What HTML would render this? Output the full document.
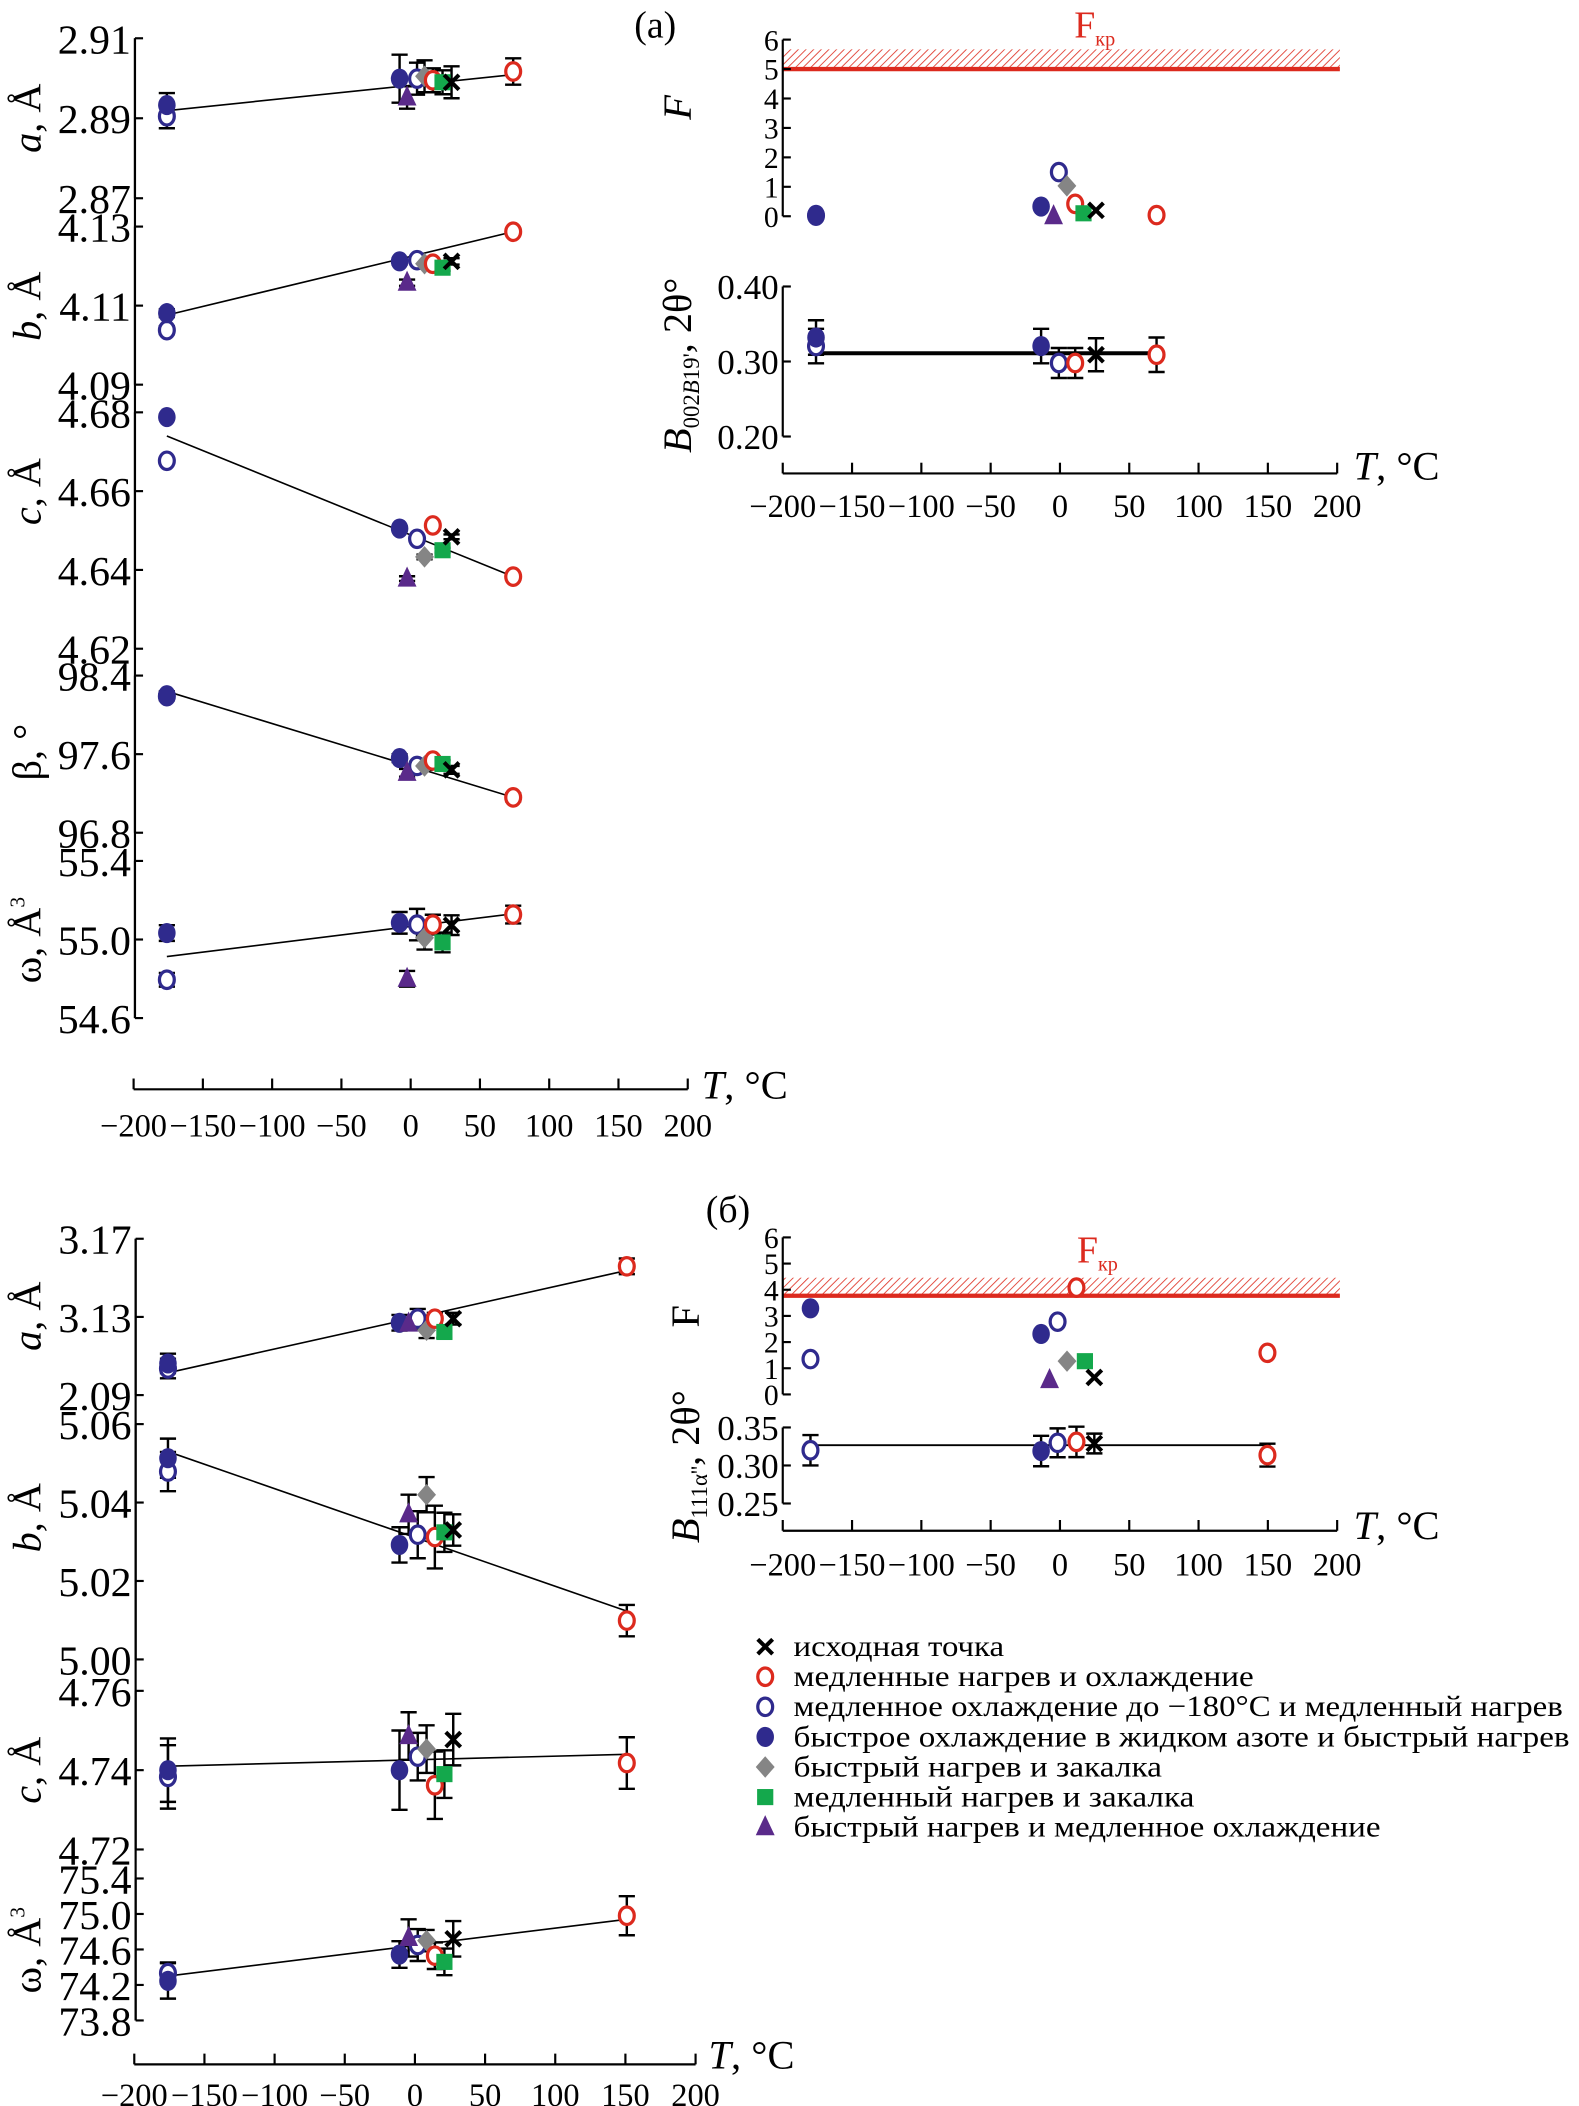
<!DOCTYPE html>
<html><head><meta charset="utf-8"><title>Lattice parameters vs T</title>
<style>html,body{margin:0;padding:0;background:#fff}svg{display:block}text{font-family:"Liberation Serif","DejaVu Serif",serif;fill:#000}</style>
</head><body>
<svg id="fig" xmlns="http://www.w3.org/2000/svg" width="1579" height="2106" viewBox="0 0 1170 1568" preserveAspectRatio="none">
<defs>
<pattern id="hatch" patternUnits="userSpaceOnUse" width="4" height="4" patternTransform="rotate(45)">
<line x1="0" y1="0" x2="0" y2="4" stroke="#e03a2e" stroke-width="1.3"/>
</pattern>
</defs>
<text x="470" y="28" font-size="28">(a)</text>
<text x="523" y="910" font-size="28">(б)</text>
<g id="legend"></g>
</svg>
<script>
// ===== Data: top-left panels (a) =====
const seriesL = ['bf','bo','bf','bo','gd','ro','gs','x','pt','ro'];
const tempsL = [-176,-176,-8,4.6,10,16,23,29.5,-2.6,74];
const aL = [2.8933,2.8905,2.8999,2.8999,2.9005,2.8995,2.899,2.899,2.8952,2.9017];
const aLerr = [0.003,0.003,0.006,0.004,0.004,0.003,0.003,0.004,0.0028,0.0033];
const bL = [4.1081,4.1038,4.1212,4.1215,4.1206,4.1206,4.1196,4.1212,4.1158,4.1287];
const bLerr = [0.001,0.001,0.0008,0.0008,0.0008,0.0008,0.0008,0.0008,0.0008,0.0008];
const cL = [4.6788,4.6677,4.6505,4.6479,4.6433,4.6513,4.6450,4.6484,4.6378,4.6383];
const cLerr = [0.0006,0.0006,0.0006,0.0006,0.0006,0.0006,0.0006,0.0006,0.0006,0.0006];
const betaL = [98.2,98.19,97.56,97.48,97.48,97.535,97.50,97.44,97.41,97.16];
const betaLerr = [0.04,0.04,0.04,0.04,0.04,0.04,0.04,0.04,0.04,0.04];
const omegaL = [55.033,54.795,55.085,55.076,55.009,55.076,54.985,55.073,54.80,55.127];
const omegaLerr = [0.04,0.035,0.055,0.08,0.06,0.05,0.05,0.05,0.04,0.045];
const fitTL = [-176,74];
const fitAL = [2.8919,2.9009];
const fitBL = [4.1076,4.1287];
const fitCL = [4.674,4.6383];
const fitBetaL = [98.24,97.16];
const fitOmegaL = [54.913,55.131];
// ===== Data: top-right (a) =====
const tempsRF = [-176,-176,-13.6,-0.8,5,11,17,26,-4.6,69.7];
const fRA = [0.05,0.02,0.33,1.5,1.03,0.42,0.1,0.2,0.0,0.04];
const fCritA = [5.0,5.67];
const seriesRB = ['bf','bo','bf','bo','ro','x','ro'];
const tempsRB = [-176,-176,-13.6,-0.8,11,26,69.7];
const bwRA = [0.332,0.3206,0.3206,0.298,0.298,0.309,0.309];
const bwRAerr = [0.023,0.023,0.023,0.02,0.02,0.022,0.023];
const fitTRA = [-176,70];
const fitBwRA = [0.311,0.311];
// ===== Data: bottom-left (б) =====
const tempsB = [-176,-176,-11,2,8.3,14.2,21,27.3,-4.5,151];
const aB = [3.1062,3.1036,3.127,3.1291,3.1232,3.1291,3.1223,3.1291,3.1266,3.1559];
const aBerr = [0.005,0.005,0.004,0.005,0.004,0.003,0.003,0.003,0.003,0.004];
const bB = [5.0513,5.0479,5.0292,5.0318,5.042,5.0312,5.0324,5.033,5.037,5.0099];
const bBerr = [0.005,0.005,0.0045,0.006,0.0045,0.008,0.005,0.004,0.005,0.004];
const cB = [4.740,4.7383,4.740,4.7434,4.7453,4.7362,4.739,4.7477,4.7486,4.7418];
const cBerr = [0.008,0.008,0.010,0.006,0.006,0.0085,0.006,0.0065,0.006,0.0065];
const omegaB = [74.246,74.333,74.543,74.65,74.70,74.53,74.46,74.72,74.73,74.98];
const omegaBerr = [0.2,0.12,0.15,0.18,0.12,0.15,0.15,0.2,0.21,0.22];
const fitTB = [-176,151];
const fitAB = [3.1014,3.1538];
const fitBB = [5.053,5.0123];
const fitCB = [4.741,4.744];
const fitOmegaB = [74.30,74.94];
// ===== Data: bottom-right (б) =====
const tempsRF2 = [-180,-180,-13.6,-1.7,5.1,11.9,18,24.8,-7.5,149.7];
const fRB = [3.29,1.35,2.31,2.78,1.27,4.08,1.27,0.65,0.55,1.59];
const fCritB = [3.77,4.46];
const seriesRB2 = ['bo','bf','bo','ro','x','ro'];
const tempsRB2 = [-180,-13.6,-1.7,11.9,24.8,149.7];
const bwRB = [0.320,0.319,0.3298,0.331,0.3289,0.3136];
const bwRBerr = [0.02,0.02,0.019,0.02,0.013,0.015];
const fitTRB = [-180,152];
const fitBwRB = [0.3267,0.3267];
// ===== Tick labels =====
const xTicks = [-200,-150,-100,-50,0,50,100,150,200];
const xTickLabels = ['−200','−150','−100','−50','0','50','100','150','200'];
const aLTicks = [2.87,2.89,2.91]; const aLLabels = ['2.87','2.89','2.91'];
const bLTicks = [4.09,4.11,4.13]; const bLLabels = ['4.09','4.11','4.13'];
const cLTicks = [4.62,4.64,4.66,4.68]; const cLLabels = ['4.62','4.64','4.66','4.68'];
const betaLTicks = [96.8,97.6,98.4]; const betaLLabels = ['96.8','97.6','98.4'];
const omegaLTicks = [54.6,55.0,55.4]; const omegaLLabels = ['54.6','55.0','55.4'];
const fTicks = [0,1,2,3,4,5,6]; const fLabels = ['0','1','2','3','4','5','6'];
const bwATicks = [0.20,0.30,0.40]; const bwALabels = ['0.20','0.30','0.40'];
const aBTicks = [3.09,3.13,3.17]; const aBLabels = ['2.09','3.13','3.17'];
const bBTicks = [5.00,5.02,5.04,5.06]; const bBLabels = ['5.00','5.02','5.04','5.06'];
const cBTicks = [4.72,4.74,4.76]; const cBLabels = ['4.72','4.74','4.76'];
const omegaBTicks = [73.8,74.2,74.6,75.0,75.4]; const omegaBLabels = ['73.8','74.2','74.6','75.0','75.4'];
const bwBTicks = [0.25,0.30,0.35]; const bwBLabels = ['0.25','0.30','0.35'];
const legendSeries = ['x','ro','bo','bf','gd','gs','pt'];
const legendLabels = ['исходная точка','медленные нагрев и охлаждение','медленное охлаждение до −180°C и медленный нагрев','быстрое охлаждение в жидком азоте и быстрый нагрев','быстрый нагрев и закалка','медленный нагрев и закалка','быстрый нагрев и медленное охлаждение'];

const NS='http://www.w3.org/2000/svg';
const svg=document.getElementById('fig');
const COL={navy:'#2f2a8d',red:'#dc2a1e',grey:'#858585',green:'#14a84c',purple:'#5a2a8a'};
const DRAW_ORDER=['bo','bf','gd','ro','gs','pt','x'];
function mk(tag,attrs,parent){const e=document.createElementNS(NS,tag);for(const k in attrs)e.setAttribute(k,attrs[k]);(parent||svg).appendChild(e);return e;}
function lin(v0,p0,v1,p1){return v=>p0+(v-v0)*(p1-p0)/(v1-v0);}
const xTL=lin(-200,99,200,509.6);
const xTR=lin(-200,580,200,990.8);
const xBL=lin(-200,99.5,200,515.4);

function marker(g,type,x,y){
  let e;
  if(type==='bf'){e=mk('ellipse',{cx:x,cy:y,rx:6.5,ry:7.5,fill:COL.navy},g);}
  else if(type==='bo'){e=mk('ellipse',{cx:x,cy:y,rx:5.5,ry:6.5,fill:'#fff',stroke:COL.navy,'stroke-width':2.4},g);}
  else if(type==='ro'){e=mk('ellipse',{cx:x,cy:y,rx:5.5,ry:6.5,fill:'#fff',stroke:COL.red,'stroke-width':2.4},g);}
  else if(type==='gd'){e=mk('polygon',{points:`${x},${y-8} ${x+7},${y} ${x},${y+8} ${x-7},${y}`,fill:COL.grey},g);}
  else if(type==='gs'){e=mk('rect',{x:x-6,y:y-6,width:12,height:12,fill:COL.green},g);}
  else if(type==='pt'){e=mk('polygon',{points:`${x},${y-9} ${x+7},${y+6} ${x-7},${y+6}`,fill:COL.purple},g);}
  else {e=mk('path',{d:`M${x-5.5},${y-5.5}L${x+5.5},${y+5.5}M${x+5.5},${y-5.5}L${x-5.5},${y+5.5}`,stroke:'#000','stroke-width':3,fill:'none'},g);}
  return e;
}
function errbar(g,x,y1,y2){
  mk('path',{d:`M${x},${y1}V${y2}M${x-6},${y1}H${x+6}M${x-6},${y2}H${x+6}`,stroke:'#000','stroke-width':1.8,fill:'none'},g);
}
function yAxis(name,x,yTop,yBot,ticks,labels,ymap,fs){
  const g=mk('g',{});
  
  
  mk('line',{x1:x,y1:yTop,x2:x,y2:yBot,stroke:'#000','stroke-width':1.6},g);
  ticks.forEach((t,i)=>{const y=ymap(t);
    mk('line',{x1:x,y1:y,x2:x+6,y2:y,stroke:'#000','stroke-width':1.6},g);
    const tx=mk('text',{x:x-3,y:y+fs*0.36,'font-size':fs,'text-anchor':'end'},g);tx.textContent=labels[i];});
}
function xAxis(name,xmap,y,lblY,fs,tlabel,tx,ty){
  const g=mk('g',{});
  
  
  mk('line',{x1:xmap(-200),y1:y,x2:xmap(200),y2:y,stroke:'#000','stroke-width':1.6},g);
  xTicks.forEach((t,i)=>{const x=xmap(t);
    mk('line',{x1:x,y1:y,x2:x,y2:y-8,stroke:'#000','stroke-width':1.6},g);
    const txt=mk('text',{x:x,y:lblY,'font-size':fs,'text-anchor':'middle'},g);txt.textContent=xTickLabels[i];});
  const t=mk('text',{x:tx,y:ty,'font-size':30},g);
  t.innerHTML='<tspan font-style="italic">T</tspan>, °C';
}
function scatter(name,xmap,ymap,temps,vals,errs,types){
  const g=mk('g',{});
  
  
  if(errs) temps.forEach((t,i)=>{errbar(g,xmap(t),ymap(vals[i]+errs[i]),ymap(vals[i]-errs[i]));});
  DRAW_ORDER.forEach(type=>{
    temps.forEach((t,i)=>{ if(types[i]!==type) return;
      const m=marker(g,types[i],xmap(t),ymap(vals[i]));
      
      });
  });
}
function fit(name,xmap,ymap,ts,vs,w){
  const l=mk('line',{x1:xmap(ts[0]),y1:ymap(vs[0]),x2:xmap(ts[1]),y2:ymap(vs[1]),stroke:'#000','stroke-width':w||1.2});
  
  
}
function ytitle(name,cx,cy,html,fs){
  const t=mk('text',{x:0,y:0,'font-size':fs||30,'text-anchor':'middle',transform:`translate(${cx},${cy}) rotate(-90)`});
  
  
  t.innerHTML=html;
}
function fcrit(name,xmap,ymap,vals,lx,ly){
  const g=mk('g',{});
  
  
  mk('rect',{x:xmap(-200),y:ymap(vals[1]),width:xmap(200)-xmap(-200)+2,height:ymap(vals[0])-ymap(vals[1]),fill:'url(#hatch)'},g);
  mk('line',{x1:xmap(-200),y1:ymap(vals[0]),x2:xmap(200)+2,y2:ymap(vals[0]),stroke:COL.red,'stroke-width':3.2},g);
  const t=mk('text',{x:lx,y:ly,'font-size':28,fill:COL.red},g);
  t.innerHTML='<tspan fill="#dc2a1e">F</tspan><tspan fill="#dc2a1e" font-size="15" dy="6">кр</tspan>';
}

// ---- Top-left
const yA=lin(2.87,147.6,2.91,28.5), yB=lin(4.09,286.4,4.13,168.7), yC=lin(4.62,483,4.68,307),
      yBe=lin(96.8,620,98.4,503), yW=lin(54.6,758,55.4,641);
mk('line',{x1:100,y1:28.5,x2:100,y2:758,stroke:'#000','stroke-width':1.6});
yAxis('a-axis',100,28.5,147.6,aLTicks,aLLabels,yA,31);
yAxis('b-axis',100,168.7,286.4,bLTicks,bLLabels,yB,31);
yAxis('c-axis',100,307,483,cLTicks,cLLabels,yC,31);
yAxis('beta-axis',100,503,620,betaLTicks,betaLLabels,yBe,31);
yAxis('omega-axis',100,641,758,omegaLTicks,omegaLLabels,yW,31);
xAxis('x-axis-top-left',xTL,811,846,24,'T',520,818);
ytitle('a-title',30,88,'<tspan font-style="italic">a</tspan>, Å');
ytitle('b-title',30,228,'<tspan font-style="italic">b</tspan>, Å');
ytitle('c-title',30,366,'<tspan font-style="italic">c</tspan>, Å');
ytitle('beta-title',30,560,'β, °');
ytitle('omega-title',30,700,'ω, Å<tspan font-size="16" dy="-12">3</tspan>');
fit('fit-a',xTL,yA,fitTL,fitAL); scatter('series-a',xTL,yA,tempsL,aL,aLerr,seriesL);
fit('fit-b',xTL,yB,fitTL,fitBL); scatter('series-b',xTL,yB,tempsL,bL,bLerr,seriesL);
fit('fit-c',xTL,yC,fitTL,fitCL); scatter('series-c',xTL,yC,tempsL,cL,cLerr,seriesL);
fit('fit-beta',xTL,yBe,fitTL,fitBetaL); scatter('series-beta',xTL,yBe,tempsL,betaL,betaLerr,seriesL);
fit('fit-omega',xTL,yW,fitTL,fitOmegaL); scatter('series-omega',xTL,yW,tempsL,omegaL,omegaLerr,seriesL);

// ---- Top-right
const yF1=lin(0,161,6,29.5), yBw1=lin(0.20,325,0.40,213.3);
fcrit('f-critical-a',xTR,yF1,fCritA,796,28);
yAxis('f-axis-a',580,29.5,161,fTicks,fLabels,yF1,22);
yAxis('bw-axis-a',580,213.3,325,bwATicks,bwALabels,yBw1,26);
xAxis('x-axis-top-right',xTR,352.5,385,24,'T',1003,357);
ytitle('f-title-a',512,80,'<tspan font-style="italic">F</tspan>');
ytitle('bw-title-a',512,272,'<tspan font-style="italic">B</tspan><tspan font-size="17" dy="6">002</tspan><tspan font-size="17" font-style="italic">B</tspan><tspan font-size="17">19\'</tspan><tspan dy="-6">, 2θ°</tspan>');
scatter('series-f-a',xTR,yF1,tempsRF,fRA,null,seriesL);
fit('fit-bw-a',xTR,yBw1,fitTRA,fitBwRA,3);
scatter('series-bw-a',xTR,yBw1,tempsRB,bwRA,bwRAerr,seriesRB);

// ---- Bottom-left
const yA2=lin(3.09,1038.7,3.17,922.3), yB2=lin(5.00,1235.5,5.06,1060.3), yC2=lin(4.72,1377,4.76,1258.9), yW2=lin(73.8,1504.3,75.4,1398.6);
mk('line',{x1:100.5,y1:922.3,x2:100.5,y2:1504.3,stroke:'#000','stroke-width':1.6});
yAxis('a-axis-b',100.5,922.3,1038.7,aBTicks,aBLabels,yA2,31);
yAxis('b-axis-b',100.5,1060.3,1235.5,bBTicks,bBLabels,yB2,31);
yAxis('c-axis-b',100.5,1258.9,1377,cBTicks,cBLabels,yC2,31);
yAxis('omega-axis-b',100.5,1398.6,1504.3,omegaBTicks,omegaBLabels,yW2,31);
xAxis('x-axis-bottom-left',xBL,1537,1568,24,'T',525,1540);
ytitle('a-title-b',30,980,'<tspan font-style="italic">a</tspan>, Å');
ytitle('b-title-b',30,1130,'<tspan font-style="italic">b</tspan>, Å');
ytitle('c-title-b',30,1318,'<tspan font-style="italic">c</tspan>, Å');
ytitle('omega-title-b',30,1452,'ω, Å<tspan font-size="16" dy="-12">3</tspan>');
fit('fit-a-b',xBL,yA2,fitTB,fitAB); scatter('series-a-b',xBL,yA2,tempsB,aB,aBerr,seriesL);
fit('fit-b-b',xBL,yB2,fitTB,fitBB); scatter('series-b-b',xBL,yB2,tempsB,bB,bBerr,seriesL);
fit('fit-c-b',xBL,yC2,fitTB,fitCB); scatter('series-c-b',xBL,yC2,tempsB,cB,cBerr,seriesL);
fit('fit-omega-b',xBL,yW2,fitTB,fitOmegaB); scatter('series-omega-b',xBL,yW2,tempsB,omegaB,omegaBerr,seriesL);

// ---- Bottom-right
const yF2=lin(0,1038.2,6,921.3), yBw2=lin(0.25,1119.4,0.35,1062.8);
fcrit('f-critical-b',xTR,yF2,fCritB,798,940);
yAxis('f-axis-b',580,921.3,1038.2,fTicks,fLabels,yF2,22);
yAxis('bw-axis-b',580,1062.8,1119.4,bwBTicks,bwBLabels,yBw2,26);
xAxis('x-axis-bottom-right',xTR,1139.7,1173,24,'T',1003,1146);
ytitle('f-title-b',518,980,'F');
ytitle('bw-title-b',518,1092,'<tspan font-style="italic">B</tspan><tspan font-size="17" dy="6">111α\'\'</tspan><tspan dy="-6">, 2θ°</tspan>');
scatter('series-f-b',xTR,yF2,tempsRF2,fRB,null,seriesL);
fit('fit-bw-b',xTR,yBw2,fitTRB,fitBwRB,1.4);
scatter('series-bw-b',xTR,yBw2,tempsRB2,bwRB,bwRBerr,seriesRB2);

// ---- Legend
const lg=document.getElementById('legend');
const legendWidths=[156,341,570,575,273,297,435];
legendSeries.forEach((s,i)=>{
  const y=1226+i*22.4;
  const item=mk('g',{},lg);
  
  
  marker(item,s,567,y);
  const t=mk('text',{x:588,y:y+7,'font-size':22,textLength:legendWidths[i],lengthAdjust:'spacingAndGlyphs'},item);
  t.textContent=legendLabels[i];
});
</script>
</body></html>
